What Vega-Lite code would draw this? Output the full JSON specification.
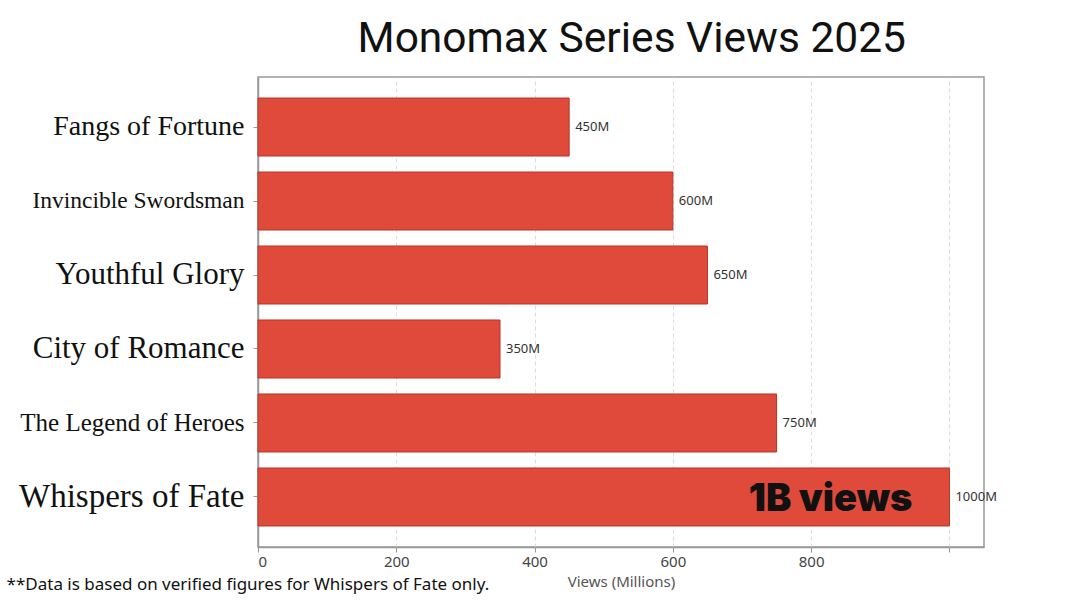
{
  "$schema": "https://vega.github.io/schema/vega-lite/v6.json",
  "background": "white",
  "padding": {"left": 5, "right": 5, "top": 17, "bottom": 5},
  "title": {"text": "Monomax Series Views 2025", "font": "Roboto", "fontSize": 42.5, "fontWeight": "normal", "color": "#111", "anchor": "middle", "offset": 16, "dx": 130},
  "config": {"view": {"stroke": "#999", "strokeWidth": 1.5}, "concat": {"spacing": 0}},
  "vconcat": [
    {
      "width": 726,
      "height": 470,
      "title": {"text": "**Data is based on verified figures for Whispers of Fate only.", "orient": "bottom", "anchor": "start", "font": "Noto Sans", "fontSize": 17, "fontWeight": "normal", "color": "#111", "offset": -12, "dx": -12},
      "data": {"values": [
        {"series": "Fangs of Fortune", "views": 450, "label": "450M", "note": ""},
        {"series": "Invincible Swordsman", "views": 600, "label": "600M", "note": ""},
        {"series": "Youthful Glory", "views": 650, "label": "650M", "note": ""},
        {"series": "City of Romance", "views": 350, "label": "350M", "note": ""},
        {"series": "The Legend of Heroes", "views": 750, "label": "750M", "note": ""},
        {"series": "Whispers of Fate", "views": 1000, "label": "1000M", "note": "1B views"}
      ]},
      "encoding": {
        "y": {"field": "series", "type": "nominal", "sort": null,
          "scale": {"paddingInner": 0.216, "paddingOuter": 0.284},
          "axis": {"title": null, "labelFont": "Liberation Serif", "labelColor": "#111", "labelPadding": 9, "tickSize": 5, "tickColor": "#999", "domainColor": "#999", "domainWidth": 1.5, "labelLimit": 400,
            "labelFontSize": {"condition": [
              {"test": "datum.value == 'Whispers of Fate'", "value": 33},
              {"test": "datum.value == 'Invincible Swordsman'", "value": 23.5},
              {"test": "datum.value == 'The Legend of Heroes'", "value": 25},
              {"test": "datum.value == 'Fangs of Fortune'", "value": 28}
            ], "value": 31}}},
        "x": {"field": "views", "type": "quantitative", "scale": {"domain": [0, 1050], "nice": false},
          "axis": {"values": [0, 200, 400, 600, 800, 1000], "labelExpr": "datum.value == 1000 ? '' : datum.label", "grid": true, "gridDash": [4, 3], "gridColor": "#dcdcdc", "title": "Views (Millions)", "titleFont": "Noto Sans", "titleFontWeight": "normal", "titleFontSize": 15, "titleColor": "#555", "titlePadding": 5, "labelFont": "Noto Sans", "labelFontSize": 15, "labelColor": "#444", "domainColor": "#999", "domainWidth": 1.5, "tickColor": "#999", "tickSize": 5}}
      },
      "layer": [
        {"mark": {"type": "bar", "color": "#E04A3B", "stroke": "#B93427", "strokeWidth": 1}},
        {"mark": {"type": "text", "align": "left", "baseline": "middle", "dx": 6, "font": "Noto Sans", "fontSize": 13, "color": "#333"}, "encoding": {"text": {"field": "label"}}},
        {"mark": {"type": "text", "align": "right", "baseline": "middle", "dx": -37, "dy": 3, "font": "Inter", "fontWeight": 900, "fontSize": 38, "color": "#111"}, "encoding": {"text": {"field": "note"}}}
      ]
    }
  ]
}
